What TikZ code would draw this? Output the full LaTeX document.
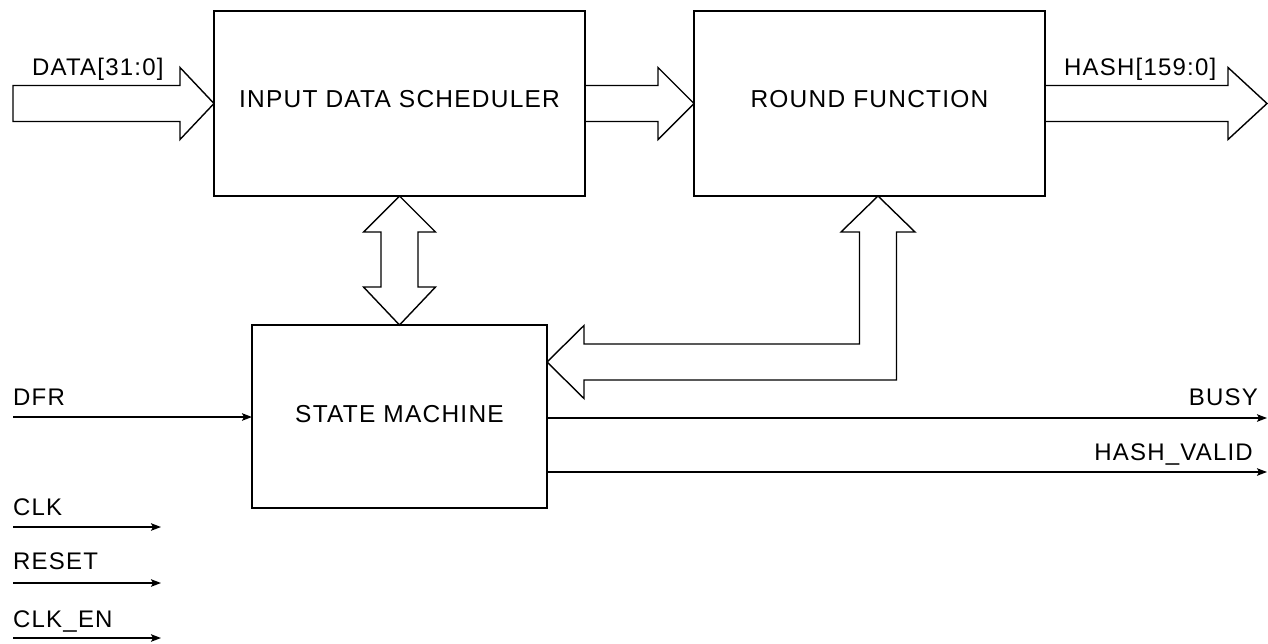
\documentclass[tikz,border=0pt]{standalone}
\usepackage{fontspec}
\setmainfont[LetterSpace=5]{Liberation Sans}
\usetikzlibrary{arrows.meta,calc}
\begin{document}
\begin{tikzpicture}[x=1pt,y=-1pt,
  box/.style={draw, line width=1.4pt, inner sep=0pt, outer sep=0pt, font=\fontsize{24.5}{30}\selectfont},
  lbl/.style={inner sep=0pt, font=\fontsize{24}{30}\selectfont},
  bus/.style={draw, line width=1.4pt, line join=miter},
  sig/.style={draw, line width=1.4pt, -{Stealth[length=10pt,width=7.5pt,inset=2pt]}}]
\useasboundingbox (0,0) rectangle (1268,643);
\fill[white] (0,0) rectangle (1268,643);

% blocks
\node[box, minimum width=371pt, minimum height=185pt, text depth=9pt] (ids) at (399.5,103.5) {INPUT DATA SCHEDULER};
\node[box, minimum width=351pt, minimum height=185pt, text depth=9pt] (rf) at (869.5,103.5) {ROUND FUNCTION};
\node[box, minimum width=295pt, minimum height=183pt, text depth=5pt] (sm) at (399.5,416.5) {STATE MACHINE};

% DATA bus into scheduler
\draw[bus] ($(ids.west)+(-201,-18)$) -- ($(ids.west)+(-34,-18)$) -- ($(ids.west)+(-34,-36)$) -- (ids.west)
  -- ($(ids.west)+(-34,36)$) -- ($(ids.west)+(-34,18)$) -- ($(ids.west)+(-201,18)$) -- cycle;
\node[lbl, anchor=base west] (ldata) at (32,75) {DATA[31:0]};

% scheduler -> round function
\draw[bus] ($(ids.east)+(0,-18)$) -- ($(rf.west)+(-36,-18)$) -- ($(rf.west)+(-36,-36)$) -- (rf.west)
  -- ($(rf.west)+(-36,36)$) -- ($(rf.west)+(-36,18)$) -- ($(ids.east)+(0,18)$);

% HASH output bus
\coordinate (hashtip) at (1267,103.5);
\draw[bus] ($(rf.east)+(0,-18)$) -- ($(hashtip)+(-39,-18)$) -- ($(hashtip)+(-39,-36)$) -- (hashtip)
  -- ($(hashtip)+(-39,36)$) -- ($(hashtip)+(-39,18)$) -- ($(rf.east)+(0,18)$);
\node[lbl, anchor=base west] (lhash) at (1064,75) {HASH[159:0]};

% double arrow scheduler <-> state machine
\draw[bus] (ids.south) -- ($(ids.south)+(36,36)$) -- ($(ids.south)+(18.5,36)$) -- ($(sm.north)+(18.5,-38)$)
  -- ($(sm.north)+(36,-38)$) -- (sm.north) -- ($(sm.north)+(-36,-38)$) -- ($(sm.north)+(-18.5,-38)$)
  -- ($(ids.south)+(-18.5,36)$) -- ($(ids.south)+(-36,36)$) -- cycle;

% L-shaped double arrow round function <-> state machine
\coordinate (rftip) at ($(rf.south)+(8.5,0)$);
\coordinate (smtip) at ($(sm.north east)+(0,37)$);
\draw[bus] (rftip) -- ($(rftip)+(37,36)$) -- ($(rftip)+(18.5,36)$) -- ($(rftip |- smtip)+(18.5,18)$)
  -- ($(smtip)+(37,18)$) -- ($(smtip)+(37,36.5)$) -- (smtip) -- ($(smtip)+(37,-36.5)$)
  -- ($(smtip)+(37,-18)$) -- ($(rftip |- smtip)+(-18.5,-18)$) -- ($(rftip)+(-18.5,36)$)
  -- ($(rftip)+(-37,36)$) -- cycle;

% signals
\coordinate (dfrin) at (13,417);
\draw[sig] (dfrin) -- (dfrin -| sm.west);
\node[lbl, anchor=base west] (ldfr) at (13,405) {DFR};

\coordinate (busyout) at (1267,418);
\draw[sig] (sm.east |- busyout) -- (busyout);
\node[lbl, anchor=base east] (lbusy) at (1258,405) {BUSY};

\coordinate (hvout) at (1267,472);
\draw[sig] (sm.east |- hvout) -- (hvout);
\node[lbl, anchor=base east] (lhv) at (1253,460) {HASH\_VALID};

\coordinate (clkin) at (13,527);
\coordinate (clkout) at (161,527);
\draw[sig] (clkin) -- (clkout);
\node[lbl, anchor=base west] (lclk) at (13,515) {CLK};

\coordinate (rstin) at (13,583);
\coordinate (rstout) at (161,583);
\draw[sig] (rstin) -- (rstout);
\node[lbl, anchor=base west] (lrst) at (13,569) {RESET};

\coordinate (cenin) at (13,638);
\coordinate (cenout) at (161,638);
\draw[sig] (cenin) -- (cenout);
\node[lbl, anchor=base west] (lcen) at (13,627) {CLK\_EN};
\end{tikzpicture}
\end{document}
